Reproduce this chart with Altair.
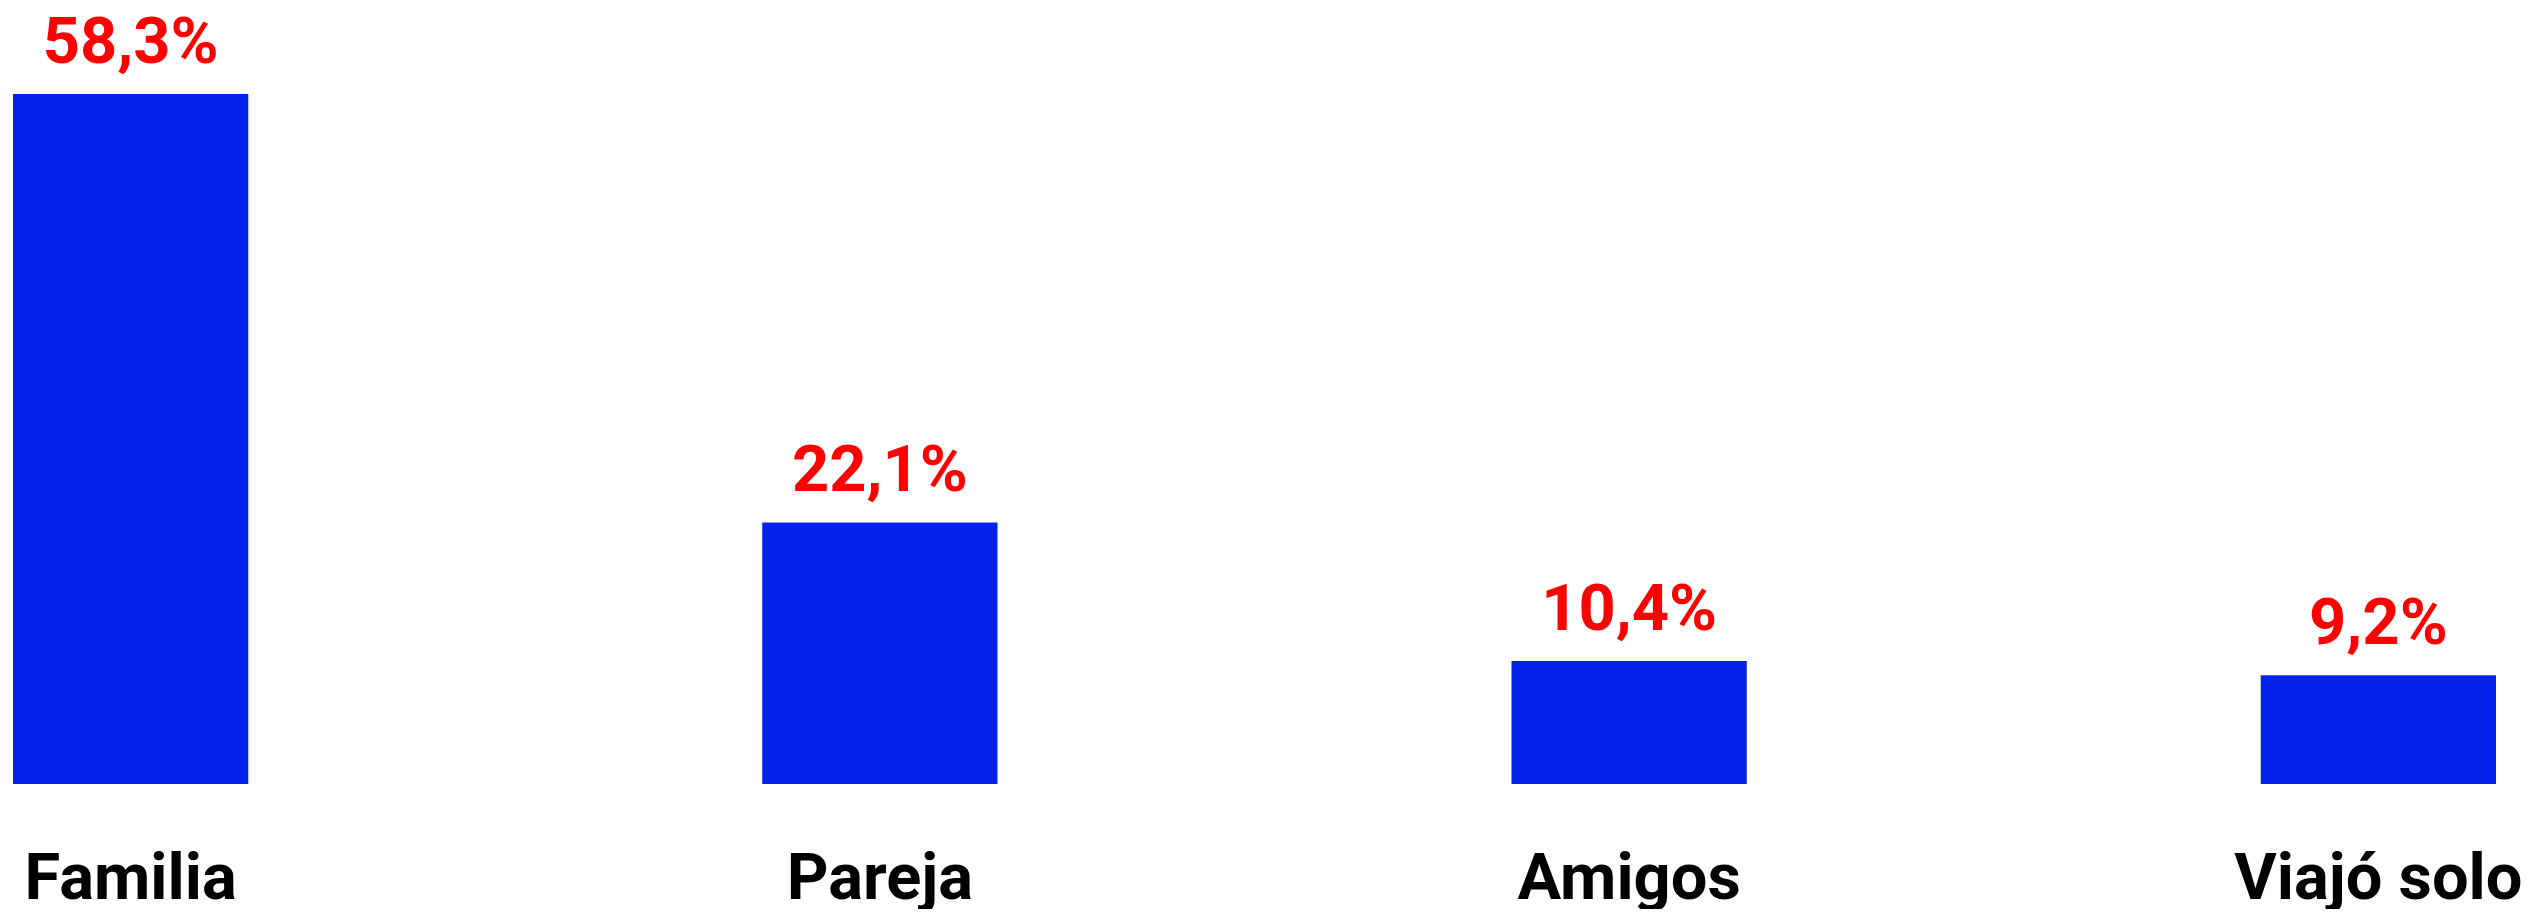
import altair as alt
import pandas as pd

categories = ["Familia", "Pareja", "Amigos", "Viajó solo"]
values = [58.3, 22.1, 10.4, 9.2]
labels = ["58,3%", "22,1%", "10,4%", "9,2%"]

df = pd.DataFrame({"cat": categories, "val": values, "lab": labels})

x = alt.X("cat:N", sort=categories, title=None,
          scale=alt.Scale(paddingInner=0.686, paddingOuter=0),
          axis=alt.Axis(labelAngle=0, ticks=False, domain=False, grid=False,
                        labelFont="Roboto", labelFontWeight="bold", labelFontSize=65,
                        labelColor="#000000", labelPadding=114, labelLimit=0,
                        labelBaseline="alphabetic"))
y = alt.Y("val:Q", title=None, scale=alt.Scale(domain=[0, 65.15], nice=False, zero=True),
          axis=None)

bars = alt.Chart(df).mark_bar(color="#0323ed").encode(x=x, y=y)
text = alt.Chart(df).mark_text(font="Roboto", fontWeight="bold", fontSize=65,
                               color="#ff0000", dy=-31, baseline="alphabetic").encode(
    x=alt.X("cat:N", sort=categories), y="val:Q", text="lab:N")

chart = (bars + text).properties(
    width=2483, height=771,
    autosize=alt.AutoSizeParams(type="none"),
    padding={"left": 5, "top": 5, "right": 30, "bottom": 125},
).configure(background="#ffffff").configure_view(stroke=None, strokeWidth=0)

chart.save("out.html", embed_options={"renderer": "svg", "actions": False})
